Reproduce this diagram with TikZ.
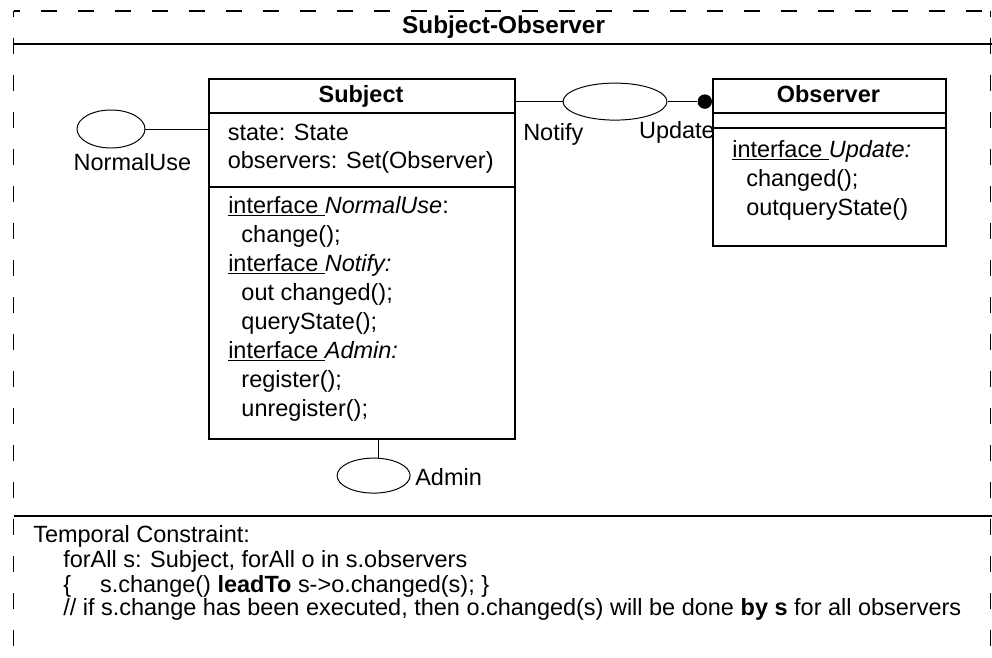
\documentclass[tikz,border=0pt]{standalone}
\usepackage{fontspec}
\setmainfont{Liberation Sans}
\usetikzlibrary{shapes.geometric}

\begin{document}
\begin{tikzpicture}
	[every node/.style={font=\fontsize{16.7}{20.6}\selectfont, inner sep=0pt},
	 bold/.style={font=\fontsize{16.7}{20.6}\selectfont\bfseries},
	 classbox/.style={draw, line width=1.2pt, anchor=north west, inner sep=0pt},
	 port/.style={draw, ellipse, line width=0.7pt, inner sep=0pt},
	 ball/.style={circle, fill=black, minimum size=0.36cm, inner sep=0pt},
	 link/.style={line width=0.7pt},
	 sep/.style={line width=1.5pt},
	 frame/.style={line width=1pt, dash pattern=on 0.4cm off 0.525cm, dash phase=0.25cm}]
	\useasboundingbox (0,0) rectangle (24.8,-16.425);

	% dashed outer frame with title and constraint bars
	\draw[frame] (0.34,-0.275) -- (0.34,-16.425);
	\draw[frame] (0.34,-0.275) -- (24.76,-0.275);
	\draw[frame] (24.76,-0.275) -- (24.76,-16.425);
	\draw[sep] (0.34,-1.1) -- (24.8,-1.1);
	\draw[sep] (0.34,-12.9) -- (24.8,-12.9);
	\draw (12.59,-0.825) node[anchor=base, font=\fontsize{17.3}{20.6}\selectfont\bfseries] (title) {Subject-Observer};

	% Subject class
	\node[classbox, minimum width=7.65cm, minimum height=9cm] (subject) at (5.2,-1.95) {};
	\draw[sep] (subject.west |- 0,-2.825) -- (subject.east |- 0,-2.825);
	\draw[sep] (subject.west |- 0,-4.68) -- (subject.east |- 0,-4.68);
	\draw (9.025,-2.55) node[anchor=base, bold] (subjname) {Subject};
	\draw (5.69,-3.51) node[anchor=base west] (attrstate) {state: State};
	\draw (5.69,-4.21) node[anchor=base west] (attrobs) {observers: Set(Observer)};
	\draw (5.7,-5.325) node[anchor=base west] (ifnormal) {\underline{interface\ }\textit{NormalUse}:};
	\draw (6.03,-6.05) node[anchor=base west] (opchange) {change();};
	\draw (5.7,-6.775) node[anchor=base west] (ifnotify) {\underline{interface\ }\textit{Notify:}};
	\draw (6.03,-7.5) node[anchor=base west] (opoutchanged) {out changed();};
	\draw (6.03,-8.225) node[anchor=base west] (opquery) {queryState();};
	\draw (5.7,-8.95) node[anchor=base west] (ifadmin) {\underline{interface\ }\textit{Admin:}};
	\draw (6.03,-9.675) node[anchor=base west] (opregister) {register();};
	\draw (6.03,-10.4) node[anchor=base west] (opunregister) {unregister();};

	% Observer class
	\node[classbox, minimum width=5.825cm, minimum height=4.175cm] (observer) at (17.8,-1.95) {};
	\draw[sep] (observer.west |- 0,-2.825) -- (observer.east |- 0,-2.825);
	\draw[sep] (observer.west |- 0,-3.2) -- (observer.east |- 0,-3.2);
	\draw (20.71,-2.55) node[anchor=base, bold] (obsname) {Observer};
	\draw (18.3,-3.925) node[anchor=base west] (ifupdate) {\underline{interface\ }\textit{Update:}};
	\draw (18.65,-4.65) node[anchor=base west] (opchanged) {changed();};
	\draw (18.65,-5.375) node[anchor=base west] (opoutquery) {outqueryState()};

	% interface ports
	\node[port, minimum width=1.7cm, minimum height=0.95cm] (normaluse) at (2.775,-3.225) {};
	\draw (3.31,-4.25) node[anchor=base] (normallabel) {NormalUse};
	\node[port, minimum width=2.6cm, minimum height=0.925cm] (notify) at (15.375,-2.54) {};
	\draw (13.075,-3.5) node[anchor=base west] (notifylabel) {Notify};
	\draw (15.97,-3.45) node[anchor=base west] (updatelabel) {Update};
	\node[ball] (updball) at (17.62,-2.54) {};
	\node[port, minimum width=1.825cm, minimum height=0.875cm] (admin) at (9.34,-11.89) {};
	\draw (10.375,-12.125) node[anchor=base west] (adminlabel) {Admin};
	\coordinate (adminlink) at (9.45,-10.95);

	\draw[link] (normaluse.east) -- (normaluse.east -| subject.west);
	\draw[link] (notify.west) -- (notify.west -| subject.east);
	\draw[link] (notify.east) -- (updball.west);
	\draw[link] (adminlink) -- (adminlink |- admin.north);

	% temporal constraint
	\draw (0.825,-13.55) node[anchor=base west] (tc) {Temporal Constraint:};
	\draw (1.575,-14.175) node[anchor=base west] (tcquant) {forAll s: Subject, forAll o in s.observers};
	\draw (1.575,-14.8) node[anchor=base west] (tcrule) {\{\hspace{0.725cm}s.change() \textbf{leadTo} s->o.changed(s); \}};
	\draw (1.575,-15.375) node[anchor=base west] (tcnote) {// if s.change has been executed, then o.changed(s) will be done \textbf{by s} for all observers};
\end{tikzpicture}
\end{document}
